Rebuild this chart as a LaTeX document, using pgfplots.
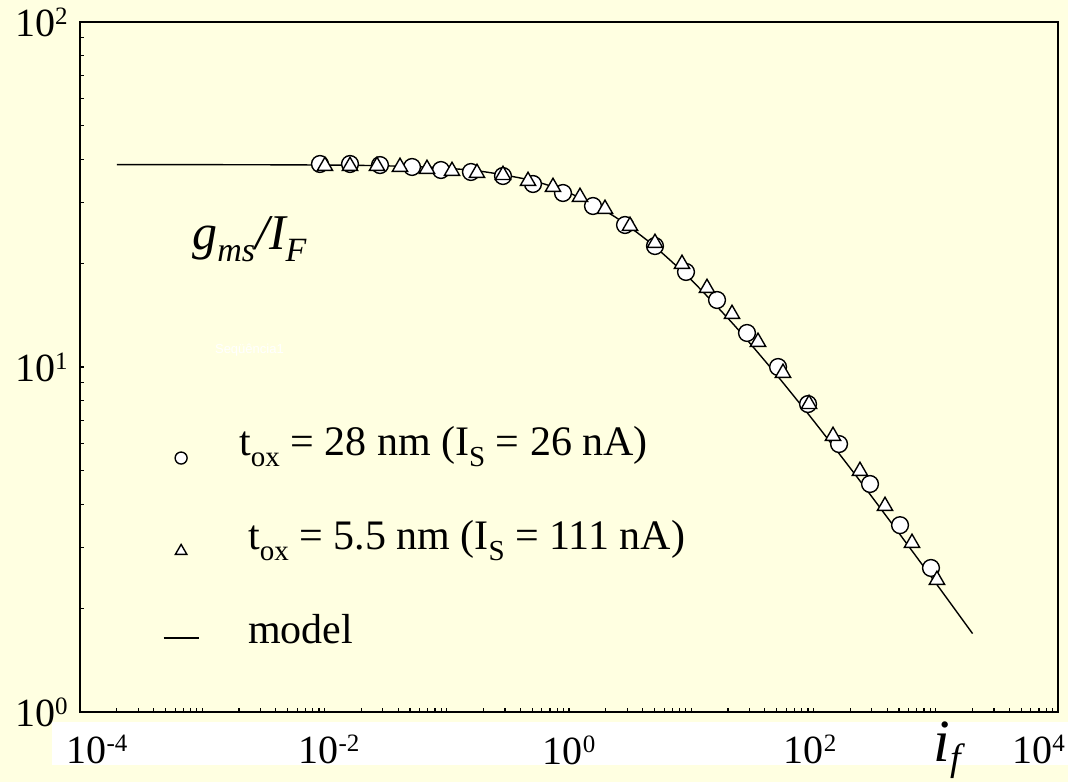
\documentclass[border=0pt]{standalone}
\usepackage{fontspec}
\setmainfont{Liberation Serif}
\newfontfamily\seriesfont{Liberation Sans}
\usepackage{graphicx}
\usepackage{pgfplots}
\pgfplotsset{compat=1.18}
\definecolor{bgyellow}{RGB}{255,255,225}

% powers of ten with a raised exponent, set in the text font
\newcommand\pw[1]{10\raisebox{6pt}{\fontsize{12.5}{12.5}\selectfont #1}}
% lowered subscripts for the legend
\newcommand\lsub[1]{\raisebox{-5.5pt}{\fontsize{14.5}{14.5}\selectfont #1}}

% legend samples
\pgfplotsset{
  circ legend/.style={legend image code/.code={
    \path (0pt,0pt) (17.5pt,0pt);
    \draw[##1, mark size=3pt] plot coordinates {(8.75pt,-1.5pt)};}},
  tri legend/.style={legend image code/.code={
    \path (0pt,0pt) (17.5pt,0pt);
    \draw[##1, mark size=3.3pt] plot coordinates {(8.75pt,-1pt)};}},
  dash legend/.style={legend image code/.code={
    \draw[##1] (0pt,2.5pt) -- (17.5pt,2.5pt);}},
}

\begin{document}
\begin{tikzpicture}
\fill[bgyellow] (-40pt,-35pt) rectangle (494pt,356pt);
\fill[white] (-14pt,-26.5pt) rectangle (494pt,-5pt);
\useasboundingbox (-40pt,-35pt) rectangle (494pt,356pt);
\begin{axis}[
  at={(0pt,0pt)}, anchor=south west,
  scale only axis, width=489pt, height=345pt,
  clip mode=individual,
  xmode=log, ymode=log,
  xmin=1e-4, xmax=1e4, ymin=1, ymax=100,
  axis background/.style={fill=bgyellow},
  axis line style={line width=1pt},
  tick align=inside, xtick pos=bottom, ytick pos=left,
  major tick length=2pt, minor tick length=2pt,
  every tick/.style={black, line width=0.6pt},
  xtick={1e-4,1e-3,1e-2,1e-1,1,10,100,1000,1e4},
  xticklabels={\hspace*{17pt}\pw{-4},,\hspace*{4.5pt}\pw{-2},,\pw{0},,\pw{2}\hspace*{3.5pt},,\pw{4}\hspace*{19.5pt}},
  minor xtick={2e-4,3e-4,4e-4,5e-4,6e-4,7e-4,8e-4,9e-4,
    2e-3,3e-3,4e-3,5e-3,6e-3,7e-3,8e-3,9e-3,
    2e-2,3e-2,4e-2,5e-2,6e-2,7e-2,8e-2,9e-2,
    0.2,0.3,0.4,0.5,0.6,0.7,0.8,0.9,
    2,3,4,5,6,7,8,9,
    20,30,40,50,60,70,80,90,
    200,300,400,500,600,700,800,900,
    2000,3000,4000,5000,6000,7000,8000,9000},
  ytick={1,10,100},
  yticklabels={\pw{0},\pw{1},\pw{2}},
  minor ytick={2,3,4,5,6,7,8,9,20,30,40,50,60,70,80,90},
  /pgf/number format/assume math mode=true,
  ticklabel style={font=\fontsize{20}{20}\selectfont},
  xticklabel style={inner sep=0pt, anchor=north, yshift=-11.5pt},
  yticklabel style={inner sep=0pt, anchor=east, xshift=-6pt},
  legend style={draw=none, fill=none, at={(0.0849,0.4159)}, anchor=north west,
    inner sep=0pt, outer sep=0pt, row sep=25pt, column sep=20pt,
    font=\fontsize{21}{21}\selectfont,
    nodes={inner sep=0pt, text height=15pt, text depth=7pt},
    cells={anchor=base west}},
]

% model curve
\addplot[black, line width=0.7pt, smooth, forget plot] coordinates {
  (2e-4,38.60) (1e-3,38.59) (3e-3,38.57) (1e-2,38.50) (2e-2,38.41)
  (5e-2,38.13) (0.1,37.68) (0.2,36.84) (0.5,34.70) (1,31.98)
  (2,28.26) (3,25.73) (5,22.38) (10,17.88) (20,13.83) (30,11.75)
  (50,9.48) (100,6.99) (200,5.09) (300,4.207) (500,3.30)
  (1000,2.365) (2000,1.688)};

% t_ox = 28 nm
\addplot[only marks, mark=*, mark size=4.2pt,
  mark options={fill=white, draw=black, line width=0.7pt}, circ legend]
  coordinates {
  (0.00918,38.77) (0.01617,38.77) (0.02844,38.5) (0.0520,38.0)
  (0.0897,37.24) (0.1577,36.75) (0.2884,35.78) (0.5076,33.92)
  (0.893,31.94) (1.571,29.29) (2.872,25.80) (5.05,22.42)
  (9.06,18.86) (16.25,15.64) (28.58,12.55) (51.3,10.0)
  (90.2,7.81) (161.8,5.98) (289.9,4.58) (510.3,3.48) (914,2.615)};
\addlegendentry{t\lsub{ox} = 28 nm (I\lsub{S} = 26 nA)}

% t_ox = 5.5 nm
\addplot[only marks, mark=triangle*, mark size=4.4pt,
  mark options={fill=white, draw=black, line width=0.7pt}, tri legend]
  coordinates {
  (0.01009,38.25) (0.01617,38.25) (0.02688,38.25) (0.04145,38.0)
  (0.06893,37.49) (0.1104,36.99) (0.1768,36.50) (0.2884,36.01)
  (0.4621,34.60) (0.7398,33.24) (1.230,31.10) (1.970,28.71)
  (3.155,25.63) (5.05,22.88) (8.40,19.89) (13.45,16.94)
  (21.55,14.24) (35.16,11.82) (56.3,9.61) (91.9,7.81)
  (144.4,6.31) (239.9,4.995) (384.5,3.955) (639.3,3.09) (1023,2.414)};
\addlegendentry{\hspace*{4.5pt}t\lsub{ox} = 5.5 nm (I\lsub{S} = 111 nA)}

\addlegendimage{black, line width=0.6pt, dash legend}
\addlegendentry{\hspace*{4.5pt}model}

\node[anchor=base west, inner sep=0pt, font=\fontsize{25}{25}\selectfont\itshape]
  at (axis description cs:0.1145,0.670)
  {g\raisebox{-6pt}{\fontsize{17}{17}\selectfont ms}/I\raisebox{-6pt}{\fontsize{17}{17}\selectfont F}};
\node[anchor=base west, text=white, font=\seriesfont\fontsize{6.5}{6.5}\selectfont]
  at (axis description cs:0.1309,0.5203) {Seqüência1};
\node[anchor=base west, font=\fontsize{30}{30}\selectfont\itshape, inner sep=0pt]
  at (axis description cs:0.8722,-0.0710)
  {i\raisebox{-4.5pt}{\fontsize{19}{19}\selectfont f}};
\end{axis}
\end{tikzpicture}
\end{document}
